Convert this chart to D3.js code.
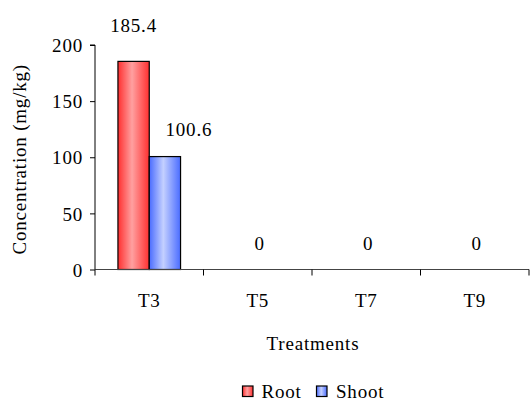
<!DOCTYPE html>
<html>
<head>
<meta charset="utf-8">
<script src="https://cdn.jsdelivr.net/npm/d3@7/dist/d3.min.js"></script>
<style>
  html, body { margin: 0; padding: 0; background: #fff; }
  svg text { font-family: "Liberation Serif", "Times New Roman", "DejaVu Serif", serif; font-size: 19px; letter-spacing: 0.8px; fill: #000; }
</style>
</head>
<body>
<svg id="chart" width="530" height="400"></svg>
<script>
// Heavy-metal concentration in plant tissue by treatment
const treatments = ["T3", "T5", "T7", "T9"];
const seriesNames = ["Root", "Shoot"];
const rootValues = [185.4, 0, 0, 0];
const shootValues = [100.6, 0, 0, 0];
const yTicks = [0, 50, 100, 150, 200];
const yTitle = "Concentration (mg/kg)";
const xTitle = "Treatments";

const svg = d3.select("#chart");
const plotLeft = 95, plotRight = 529, plotTop = 45, plotBottom = 269.5;

const x = d3.scaleBand().domain(treatments).range([plotLeft, plotRight]).padding(0);
const xs = d3.scaleBand().domain(seriesNames).range([0, x.bandwidth()])
  .paddingInner(0).paddingOuter(0.733);
const y = d3.scaleLinear().domain([0, 200]).range([plotBottom, plotTop]);

// Gradients: saturated edges, pale centre
const defs = svg.append("defs");
const grads = {
  Root: ["#ff3030", "#ffa0a0"],
  Shoot: ["#4a6cff", "#c4d0ff"]
};
Object.entries(grads).forEach(([name, [edge, mid]]) => {
  const g = defs.append("linearGradient").attr("id", "g" + name)
    .attr("x1", "0%").attr("x2", "100%").attr("y1", "0%").attr("y2", "0%");
  g.append("stop").attr("offset", "0%").attr("stop-color", edge);
  g.append("stop").attr("offset", "45%").attr("stop-color", mid);
  g.append("stop").attr("offset", "100%").attr("stop-color", edge);
});

const rows = treatments.map((t, i) => ({ t, Root: rootValues[i], Shoot: shootValues[i] }));

// Bars
rows.forEach(r => {
  seriesNames.forEach(s => {
    if (r[s] <= 0) return;
    svg.append("rect")
      .attr("x", x(r.t) + xs(s))
      .attr("y", y(r[s]))
      .attr("width", xs.bandwidth())
      .attr("height", y(0) - y(r[s]))
      .attr("fill", `url(#g${s})`)
      .attr("stroke", "#000")
      .attr("stroke-width", 1.2);
  });
});

// Y axis
const yAxis = d3.axisLeft(y).tickValues(yTicks).tickSize(5).tickPadding(7).tickFormat(d3.format("d"));
const gy = svg.append("g").attr("transform", `translate(${plotLeft},0)`).call(yAxis);
gy.attr("font-family", null).attr("font-size", null);
gy.select(".domain").attr("stroke", "#000").attr("d", `M-5,${plotTop}H0V${plotBottom}`);
gy.selectAll(".tick line").attr("stroke", "#000");
gy.selectAll("text").attr("dy", "0.35em");

// X axis with tick marks at category boundaries
const gx = svg.append("g").attr("transform", `translate(0,${plotBottom})`);
gx.append("line").attr("x1", plotLeft).attr("x2", plotRight).attr("stroke", "#444").attr("stroke-width", 1.2);
const bounds = treatments.map(t => x(t)).concat([plotRight]);
gx.selectAll(".bt").data(bounds).join("line")
  .attr("x1", d => d).attr("x2", d => d).attr("y1", 0).attr("y2", 6)
  .attr("stroke", "#000");
gx.selectAll(".cat").data(treatments).join("text")
  .attr("x", d => x(d) + x.bandwidth() / 2)
  .attr("y", 37)
  .attr("text-anchor", "middle")
  .text(d => d);

// Value labels
rows.forEach(r => {
  if (r.Root === 0 && r.Shoot === 0) {
    svg.append("text").attr("x", x(r.t) + x.bandwidth() / 2 + 2).attr("y", y(0) - 20)
      .attr("text-anchor", "middle").text("0");
    return;
  }
  svg.append("text")
    .attr("x", x(r.t) + xs("Root") + xs.bandwidth() / 2)
    .attr("y", y(r.Root) - 29)
    .attr("text-anchor", "middle").text(r.Root);
  svg.append("text")
    .attr("x", x(r.t) + xs("Shoot") + xs.bandwidth() / 2 + 24)
    .attr("y", y(r.Shoot) - 21)
    .attr("text-anchor", "middle").text(r.Shoot);
});

// Axis titles
svg.append("text")
  .attr("transform", `translate(26,${(plotTop + plotBottom) / 2 + 2}) rotate(-90)`)
  .attr("text-anchor", "middle").text(yTitle);
svg.append("text").attr("x", 313).attr("y", 350).attr("text-anchor", "middle").text(xTitle);

// Legend
const legend = svg.append("g");
const legendItems = [
  { name: "Root", sx: 242.5, tx: 261.5 },
  { name: "Shoot", sx: 316.5, tx: 336 }
];
legendItems.forEach(it => {
  legend.append("rect").attr("x", it.sx).attr("y", 386).attr("width", 10.5).attr("height", 10.5)
    .attr("fill", `url(#g${it.name})`).attr("stroke", "#000").attr("stroke-width", 1.2);
  legend.append("text").attr("x", it.tx).attr("y", 397.5).text(it.name);
});
</script>
</body>
</html>
